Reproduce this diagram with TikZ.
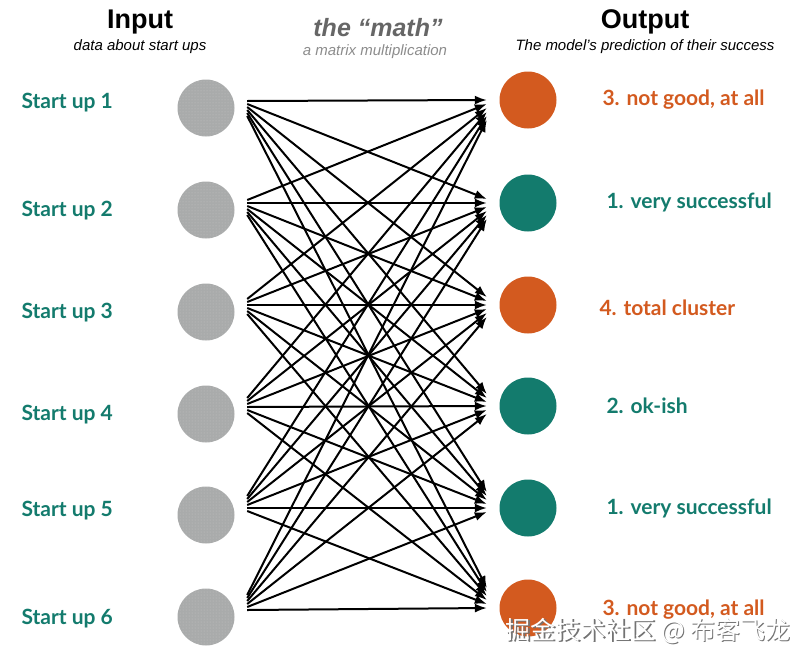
\documentclass[tikz,border=0pt]{standalone}
\usepackage{fontspec}
\setmainfont{Liberation Sans}
\newfontfamily\labelfont{Lato}
\newfontfamily\cjkfont{Noto Sans CJK SC}
\usetikzlibrary{arrows.meta,calc,patterns}
\definecolor{rust}{HTML}{D35A1F}
\definecolor{pine}{HTML}{137B6D}
\definecolor{pebble}{HTML}{A9ABAB}
\begin{document}
\begin{tikzpicture}[x=1pt,y=-1pt,
	inputdot/.style={circle,minimum size=57pt,inner sep=0pt,fill=pebble,
		postaction={pattern=dots,pattern color=white,opacity=0.3}},
	outputdot/.style={circle,minimum size=57pt,inner sep=0pt,fill=#1},
	startlabel/.style={anchor=west,text=pine,font=\labelfont\bfseries\fontsize{21}{24}\selectfont},
	verdict/.style={anchor=west,text=#1,font=\labelfont\bfseries\fontsize{21}{24}\selectfont},
	heading/.style={font=\bfseries\fontsize{27}{30}\selectfont},
	subheading/.style={font=\itshape\fontsize{15}{17}\selectfont},
	link/.style={-{Latex[length=12pt,width=9pt]},line width=2pt}]
	\useasboundingbox (0,0) rectangle (810,664);
	% headings
	\node[heading] (inhead) at (140,22) {Input};
	\node[subheading] (insub) at (140,47) {data about start ups};
	\node[heading,text=black!60,font=\bfseries\itshape\fontsize{25}{28}\selectfont] (mathhead) at (378,28) {the “math”};
	\node[subheading,text=black!45] (mathsub) at (375,52) {a matrix multiplication};
	\node[heading] (outhead) at (645,22) {Output};
	\node[subheading] (outsub) at (645,47) {The model’s prediction of their success};
	% inputs
	\foreach \y [count=\i] in {108,210,312,414,515,617}
		\node[inputdot] (in\i) at (206,\y) {};
	\foreach \y [count=\i] in {103,211,313,415,511,619}
		\node[startlabel] (lab\i) at (18,\y) {Start up \i};
	% outputs
	\foreach \y/\c [count=\j] in {100/rust,203/pine,305/rust,406/pine,508/pine,608/rust}
		\node[outputdot=\c] (out\j) at (528,\y) {};
	\node[verdict=rust] (res1) at (599,100) {3. not good, at all};
	\node[verdict=pine] (res2) at (603,202) {1. very successful};
	\node[verdict=rust] (res3) at (596,308) {4. total cluster};
	\node[verdict=pine] (res4) at (603,406) {2. ok-ish};
	\node[verdict=pine] (res5) at (603,508) {1. very successful};
	\node[verdict=rust] (res6) at (599,610) {3. not good, at all};
	% the math
	\foreach \i in {1,...,6}
		\foreach \j in {1,...,6}
			\draw[link] ($(in\i.east)+(12.5,{3*(\j-\i)-7})$) -- ($(out\j.west)+(-12.5,{4*(\i-\j)})$);
	% watermark
	\node[text=black!55,font=\cjkfont\fontsize{25}{29}\selectfont] (wmshadow) at (649.5,632.5) {掘金技术社区 @ 布客飞龙};
	\node[text=white,font=\cjkfont\fontsize{25}{29}\selectfont] (wm) at (648,631) {掘金技术社区 @ 布客飞龙};
\end{tikzpicture}
\end{document}
